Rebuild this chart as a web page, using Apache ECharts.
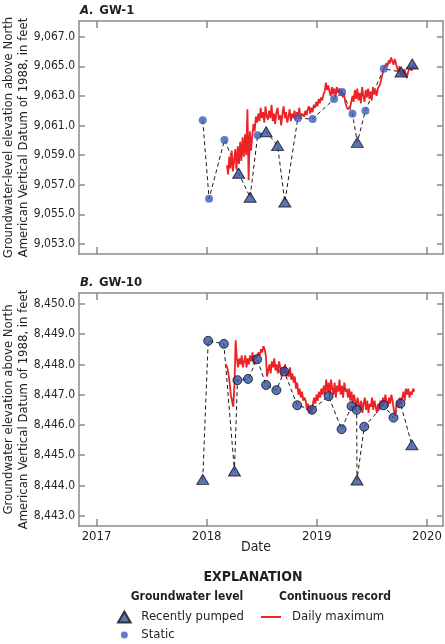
<!DOCTYPE html>
<html lang="en">
  <head>
    <meta charset="UTF-8" />
    <title>GW-1 and GW-10 groundwater levels</title>
    <script src="https://cdn.jsdelivr.net/npm/echarts@6/dist/echarts.min.js"></script>
    <style>
      html,
      body {
        margin: 0;
        padding: 0;
        background: #fff;
      }
      #chart {
        width: 445px;
        height: 644px;
      }
    </style>
  </head>
  <body>
    <div id="chart"></div>
    <script>
      // GW-1 manual measurements (P = recently pumped, S = static)
      const gw1Dates = [
        "2017-12-19", "2018-01-09", "2018-03-01", "2018-04-17", "2018-05-25",
        "2018-06-19", "2018-07-17", "2018-08-24", "2018-09-17", "2018-10-30",
        "2018-12-18", "2019-02-27", "2019-03-26", "2019-04-29", "2019-05-15",
        "2019-06-11", "2019-08-11", "2019-10-07", "2019-11-13",
      ];
      const gw1Levels = [
        9061.35, 9056.05, 9060.02, 9057.77, 9056.15, 9060.34, 9060.58, 9059.64,
        9055.83, 9061.49, 9061.44, 9062.79, 9063.26, 9061.8, 9059.86, 9062.0,
        9064.84, 9064.61, 9065.16,
      ];
      const gw1Kinds = [
        "S", "S", "S", "P", "P", "S", "P", "P", "P", "S",
        "S", "S", "S", "S", "P", "S", "S", "P", "P",
      ];

      // GW-1 continuous record, daily maximum (one value every 4 days)
      const gw1DailyStart = "2018-03-09";
      const gw1DailyMax = [
        9058.3, 9057.7, 9058.9, 9058.1, 9059.3, 9057.9, 9058.7, 9059.4, 9058.0, 9059.6,
        9058.4, 9059.9, 9058.6, 9060.2, 9058.9, 9060.4,
        9059.0, 9062.1, 9057.3, 9060.6, 9059.3, 9060.3, 9061.1, 9060.6, 9061.6, 9061.2,
        9061.8, 9061.3, 9062.2, 9061.5, 9061.9, 9061.2, 9062.3, 9061.6, 9061.4, 9062.0,
        9061.5, 9062.4, 9061.3, 9061.8, 9061.1, 9061.9, 9062.2, 9061.4, 9061.7, 9061.0,
        9061.8, 9062.3, 9061.5, 9061.9, 9061.2, 9061.6, 9062.1, 9061.3, 9061.8, 9061.5,
        9062.0, 9061.4, 9061.9, 9061.6, 9062.2, 9061.5, 9061.8, 9061.9, 9061.6, 9062.0,
        9061.7, 9062.1, 9062.3, 9061.8, 9062.2, 9061.9, 9062.4, 9062.2, 9062.6, 9062.3,
        9062.8, 9062.5, 9062.9, 9062.7, 9063.1,
        9063.3, 9063.9, 9063.4, 9063.7, 9063.3,
        9063.0, 9063.6, 9063.1, 9063.5, 9062.9, 9063.6, 9063.2, 9063.5, 9063.0, 9063.4,
        9062.9, 9063.2, 9062.6, 9062.3, 9062.1,
        9062.0, 9062.2, 9062.6, 9063.0,
        9062.6, 9063.4, 9062.8, 9063.5, 9062.7, 9063.2, 9062.5, 9063.6, 9063.0, 9062.6,
        9063.4, 9062.9, 9063.5, 9062.8, 9063.3, 9062.7, 9063.6, 9063.1, 9063.4, 9063.0,
        9063.5,
        9063.4, 9063.8, 9064.2, 9064.5, 9064.8, 9065.0, 9065.2,
        9065.0, 9065.4, 9065.2, 9065.6, 9065.5, 9065.1, 9065.5, 9065.2,
        9064.9, 9064.6, 9065.0, 9064.4, 9064.7, 9064.3, 9064.8, 9064.5, 9064.2, 9064.6,
        9064.8, 9065.0, 9064.7, 9065.1, 9064.9, 9065.0, 9064.9,
      ];

      // GW-10 manual measurements
      const gw10Dates = [
        "2017-12-19", "2018-01-06", "2018-02-27", "2018-04-03", "2018-04-13",
        "2018-05-18", "2018-06-17", "2018-07-17", "2018-08-20", "2018-09-15",
        "2018-10-28", "2018-12-16", "2019-02-09", "2019-03-24", "2019-04-26",
        "2019-05-13", "2019-05-14", "2019-06-07", "2019-08-10", "2019-09-12",
        "2019-10-05", "2019-11-12",
      ];
      const gw10Levels = [
        8444.2, 8448.78, 8448.68, 8444.48, 8447.48, 8447.52, 8448.17, 8447.32,
        8447.15, 8447.77, 8446.65, 8446.5, 8446.95, 8445.86, 8446.62, 8446.5,
        8444.18, 8445.94, 8446.65, 8446.24, 8446.71, 8445.34,
      ];
      const gw10Kinds = [
        "P", "S", "S", "P", "S", "S", "S", "S", "S", "S", "S",
        "S", "S", "S", "S", "S", "P", "S", "S", "S", "S", "P",
      ];

      // GW-10 continuous record, daily maximum (one value every 4 days)
      const gw10DailyStart = "2018-03-06";
      const gw10DailyMax = [
        8448.0, 8447.9, 8447.7,
        8447.4, 8447.0, 8446.8, 8446.6,
        8447.3, 8448.8, 8448.2,
        8447.9, 8448.2, 8448.0, 8448.3, 8447.9, 8448.1, 8448.3, 8447.9, 8448.2, 8448.0,
        8448.3, 8448.1, 8448.4, 8448.0, 8448.3, 8448.2,
        8448.2, 8448.4, 8448.3, 8448.5, 8448.4, 8448.6, 8448.5, 8448.3,
        8447.6,
        8447.8, 8448.0, 8447.7, 8448.1, 8447.9, 8448.2, 8447.8, 8448.0, 8447.7, 8448.1,
        8447.9, 8447.6, 8447.9, 8447.7, 8448.0, 8447.6,
        8447.8, 8447.6, 8447.9, 8447.5, 8447.7, 8447.4, 8447.6, 8447.2, 8447.4, 8447.0,
        8447.2, 8446.9, 8447.1, 8446.8, 8446.9,
        8446.8, 8446.5, 8446.7, 8446.4, 8446.6, 8446.4, 8446.7,
        8446.9, 8446.7, 8447.0, 8446.8, 8447.1, 8446.9, 8447.2, 8447.0,
        8447.3, 8447.0, 8447.5, 8447.1, 8447.4, 8446.9, 8447.5, 8447.2, 8447.0, 8447.4,
        8446.9, 8447.3, 8447.1, 8447.5, 8447.0, 8447.3, 8446.9, 8447.4, 8447.1, 8447.2,
        8446.9, 8447.2, 8446.8, 8447.1, 8446.7, 8447.0, 8446.8, 8446.6, 8446.9, 8446.7,
        8446.5, 8446.8, 8446.4, 8446.7, 8446.9, 8446.5, 8446.8, 8446.4, 8446.7, 8446.6,
        8446.9, 8446.5, 8446.8, 8446.6, 8446.4, 8446.7, 8446.5, 8446.8, 8446.6, 8446.9,
        8446.7, 8447.0, 8446.8, 8446.6, 8446.9, 8446.7, 8447.0, 8446.8, 8446.5, 8446.3,
        8446.6, 8446.8, 8446.6, 8446.9, 8446.7,
        8446.9, 8447.1, 8446.8, 8447.2, 8447.0, 8447.2, 8446.9, 8447.1, 8447.0, 8447.2,
        8447.1,
      ];

      // axis ticks
      const yearTicks = [2017, 2018, 2019, 2020];
      const gw1Ticks = [9053, 9055, 9057, 9059, 9061, 9063, 9065, 9067];
      const gw10Ticks = [8443, 8444, 8445, 8446, 8447, 8448, 8449, 8450];

      const font = "'Liberation Sans Narrow', 'Arial Narrow', 'DejaVu Sans Condensed', sans-serif";
      const ink = "#231f20";
      const frame = "#8a8a8a";
      const red = "#ec2227";
      const blue = "#2f52a4";
      const dotBlue = "#3a5cb8";
      const DAY = 86400000;

      // x is a plain value axis holding timestamps (ms)
      const toTime = (s) => new Date(s + "T00:00:00").getTime();
      const yearValues = yearTicks.map((y) => new Date(y, 0, 1).getTime());
      const xMin = toTime("2016-11-04");
      const xMax = toTime("2020-02-23");

      function pairs(dates, levels) {
        return dates.map((d, i) => [toTime(d), levels[i]]);
      }
      function pick(dates, levels, kinds, k) {
        return pairs(dates, levels).filter((p, i) => kinds[i] === k);
      }
      function daily(start, values) {
        const t0 = toTime(start);
        return values.map((v, i) => [t0 + i * 4 * DAY, v]);
      }
      function fmtLevel(v) {
        const n = Math.round(v);
        return Math.floor(n / 1000) + "," + String(n % 1000).padStart(3, "0") + ".0";
      }

      function xAxisFor(grid, pos, labels) {
        return {
          type: "value",
          gridIndex: grid,
          position: pos,
          min: xMin,
          max: xMax,
          axisLine: { lineStyle: { color: frame, width: 1.5 } },
          axisTick: {
            inside: true,
            length: 7,
            customValues: yearValues,
            lineStyle: { color: frame, width: 1.5 },
          },
          axisLabel: {
            show: labels,
            customValues: yearValues,
            formatter: (v) => String(new Date(v).getFullYear()),
            color: ink,
            fontFamily: font,
            fontSize: 13,
            margin: 4,
          },
          splitLine: { show: false },
        };
      }
      function yAxisFor(grid, pos, min, max, ticks, name) {
        return {
          type: "value",
          gridIndex: grid,
          position: pos,
          min: min,
          max: max,
          name: name,
          nameLocation: "middle",
          nameRotate: 90,
          nameGap: 48,
          nameMoveOverlap: false,
          nameTextStyle: { color: ink, fontFamily: font, fontSize: 13, lineHeight: 15 },
          axisLine: { show: true, lineStyle: { color: frame, width: 1.5 } },
          axisTick: {
            show: true,
            inside: true,
            length: 6,
            customValues: ticks,
            lineStyle: { color: frame, width: 1.5 },
          },
          axisLabel: {
            show: pos === "left",
            customValues: ticks,
            formatter: fmtLevel,
            color: ink,
            fontFamily: font,
            fontSize: 12,
            margin: 4,
          },
          splitLine: { show: false },
        };
      }

      function panelSeries(ax, dates, levels, kinds, start, dailyMax, dotStyle, dotSize) {
        return [
          {
            type: "line",
            name: "measurements",
            xAxisIndex: ax,
            yAxisIndex: ax,
            data: pairs(dates, levels),
            symbol: "none",
            lineStyle: { color: "#1a1a1a", width: 1, type: [4, 3] },
            z: 2,
            silent: true,
          },
          {
            type: "line",
            name: "Daily maximum",
            xAxisIndex: ax,
            yAxisIndex: ax,
            data: daily(start, dailyMax),
            symbol: "none",
            lineStyle: { color: red, width: 1.8 },
            itemStyle: { color: red },
            z: 3,
          },
          {
            type: "scatter",
            name: "Static",
            xAxisIndex: ax,
            yAxisIndex: ax,
            data: pick(dates, levels, kinds, "S"),
            symbol: "circle",
            symbolSize: dotSize,
            itemStyle: dotStyle,
            z: 4,
          },
          {
            type: "scatter",
            name: "Recently pumped",
            xAxisIndex: ax,
            yAxisIndex: ax,
            data: pick(dates, levels, kinds, "P"),
            symbol: "triangle",
            symbolSize: [12, 10],
            itemStyle: { color: blue, borderColor: "#111", borderWidth: 1 },
            z: 5,
          },
        ];
      }

      const chart = echarts.init(document.getElementById("chart"), null, { renderer: "canvas" });

      const panelTitle = (letter, well, top) => ({
        text: "{i|" + letter + "} {b|" + well + "}",
        left: 80,
        top: top,
        padding: 0,
        textStyle: {
          rich: {
            i: { fontStyle: "italic", fontWeight: "bold", fontSize: 13, fontFamily: font, color: ink },
            b: { fontWeight: "bold", fontSize: 13, fontFamily: font, color: ink },
          },
        },
      });

      const headerText = (text, x, y, size) => ({
        type: "text",
        x: x,
        y: y,
        style: {
          text: text,
          font: "bold " + size + "px " + font,
          fill: ink,
          textAlign: "center",
          textVerticalAlign: "middle",
        },
      });

      const option = {
        animation: false,
        backgroundColor: "#fff",
        textStyle: { fontFamily: font },
        title: [panelTitle("A.", "GW-1", 2), panelTitle("B.", "GW-10", 274)],
        grid: [
          { left: 79, top: 21, width: 364, height: 233, outerBoundsMode: "none", containLabel: false },
          { left: 79, top: 293, width: 364, height: 233, outerBoundsMode: "none", containLabel: false },
        ],
        xAxis: [
          xAxisFor(0, "bottom", false),
          xAxisFor(0, "top", false),
          Object.assign(xAxisFor(1, "bottom", true), {
            name: "Date",
            nameLocation: "middle",
            nameGap: 14,
            nameMoveOverlap: false,
            nameTextStyle: { color: ink, fontFamily: font, fontSize: 14, padding: [0, 10, 0, 0] },
          }),
          xAxisFor(1, "top", false),
        ],
        yAxis: [
          yAxisFor(0, "left", 9052.32, 9068.06, gw1Ticks,
            "Groundwater-level elevation above North\nAmerican Vertical Datum of 1988, in feet"),
          yAxisFor(0, "right", 9052.32, 9068.06, gw1Ticks, ""),
          yAxisFor(1, "left", 8442.66, 8450.36, gw10Ticks,
            "Groundwater elevation above North\nAmerican Vertical Datum of 1988, in feet"),
          yAxisFor(1, "right", 8442.66, 8450.36, gw10Ticks, ""),
        ],
        legend: [
          {
            orient: "vertical",
            left: 117,
            top: 609,
            padding: 0,
            itemWidth: 20,
            itemHeight: 11,
            itemGap: 2,
            textStyle: { color: ink, fontFamily: font, fontSize: 13, lineHeight: 16, padding: [0, 0, 0, 2] },
            data: [
              { name: "Recently pumped", icon: "path://M6,0L12,10.4L0,10.4Z" },
              {
                name: "Static",
                icon: "path://M0,0M12,11M2.5,5.5A3.5,3.5,0,1,1,9.5,5.5A3.5,3.5,0,1,1,2.5,5.5Z",
                itemStyle: { color: dotBlue, borderWidth: 0 },
              },
            ],
            selectedMode: false,
          },
          {
            orient: "vertical",
            left: 261,
            top: 609,
            padding: 0,
            itemWidth: 20,
            itemHeight: 11,
            textStyle: { color: ink, fontFamily: font, fontSize: 13, lineHeight: 16, padding: [0, 0, 0, 6] },
            data: [
              {
                name: "Daily maximum",
                icon: "path://M0,0L20,0L20,2L0,2Z",
                itemStyle: { color: red, borderWidth: 0 },
              },
            ],
            selectedMode: false,
          },
        ],
        graphic: [
          headerText("EXPLANATION", 253, 577, 14),
          headerText("Groundwater level", 187, 597, 12),
          headerText("Continuous record", 335, 597, 12),
        ],
        series: [
          ...panelSeries(0, gw1Dates, gw1Levels, gw1Kinds, gw1DailyStart, gw1DailyMax,
            { color: dotBlue, borderWidth: 0 }, 8),
          ...panelSeries(2, gw10Dates, gw10Levels, gw10Kinds, gw10DailyStart, gw10DailyMax,
            { color: blue, borderColor: "#111", borderWidth: 1 }, 9),
        ],
      };

      chart.setOption(option);
    </script>
  </body>
</html>
